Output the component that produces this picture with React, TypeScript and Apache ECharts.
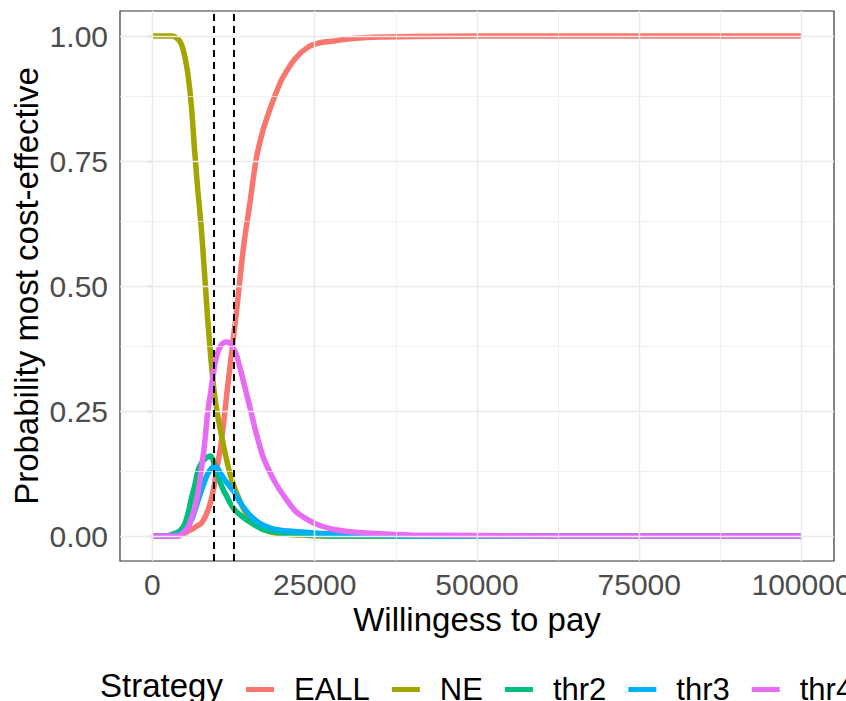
import React, { useEffect, useRef } from "react";
import * as echarts from "echarts";

// Willingness-to-pay grid (x values)
const wtp = [
  0, 2000, 3000, 4000, 4500, 5000, 5500, 6000, 6500, 7000, 7500, 8000, 8500, 9000, 9500, 10000,
  10500, 11000, 11500, 12000, 12500, 13000, 14000, 15000, 16000, 17000, 18000, 19000, 20000,
  22000, 24000, 26000, 28000, 30000, 33000, 36000, 40000, 50000, 60000, 70000, 80000, 90000, 100000,
];

const eall = [
  0, 0, 0, 0, 0.003, 0.006, 0.01, 0.013, 0.017, 0.021, 0.025, 0.035, 0.05, 0.07, 0.1, 0.14,
  0.178, 0.23, 0.29, 0.345, 0.4, 0.455, 0.575, 0.665, 0.755, 0.81, 0.85, 0.885, 0.915,
  0.955, 0.978, 0.987, 0.99, 0.994, 0.997, 0.998, 0.999, 1, 1, 1, 1, 1, 1,
];

const ne = [
  1, 1, 1, 0.993, 0.982, 0.958, 0.92, 0.86, 0.77, 0.69, 0.62, 0.53, 0.435, 0.355, 0.29, 0.245,
  0.21, 0.178, 0.148, 0.122, 0.102, 0.085, 0.055, 0.035, 0.022, 0.014, 0.009, 0.006, 0.004,
  0.002, 0.001, 0, 0, 0, 0, 0, 0, 0, 0, 0, 0, 0, 0,
];

const thr2 = [
  0, 0, 0.003, 0.008, 0.014, 0.025, 0.046, 0.075, 0.1, 0.13, 0.145, 0.153, 0.158, 0.16, 0.145, 0.125,
  0.105, 0.09, 0.078, 0.065, 0.055, 0.048, 0.037, 0.028, 0.02, 0.013, 0.01, 0.008, 0.006,
  0.004, 0.002, 0.001, 0, 0, 0, 0, 0, 0, 0, 0, 0, 0, 0,
];

const thr3 = [
  0, 0, 0, 0.003, 0.006, 0.012, 0.02, 0.032, 0.05, 0.07, 0.09, 0.108, 0.124, 0.134, 0.14, 0.136,
  0.125, 0.115, 0.106, 0.098, 0.09, 0.078, 0.058, 0.042, 0.03, 0.022, 0.017, 0.013, 0.011,
  0.009, 0.007, 0.005, 0.004, 0.003, 0.002, 0.001, 0, 0, 0, 0, 0, 0, 0,
];

const thr4 = [
  0, 0, 0, 0, 0.004, 0.01, 0.018, 0.035, 0.055, 0.085, 0.13, 0.18, 0.246, 0.29, 0.335, 0.365,
  0.38, 0.387, 0.388, 0.385, 0.375, 0.36, 0.31, 0.258, 0.205, 0.16, 0.13, 0.105, 0.085,
  0.05, 0.032, 0.02, 0.013, 0.009, 0.006, 0.004, 0.002, 0.001, 0, 0, 0, 0, 0,
];

const strategies = ["EALL", "NE", "thr2", "thr3", "thr4"];
const colors = ["#F8766D", "#A3A500", "#00BF7D", "#00B0F6", "#E76BF3"];
const seriesValues = [eall, ne, thr2, thr3, thr4];

const xTicks = [0, 25000, 50000, 75000, 100000];
const xMinor = [12500, 37500, 62500, 87500];
const yTicks = [0, 0.25, 0.5, 0.75, 1];
const yMinor = [0.125, 0.375, 0.625, 0.875];
const icerLines = [9400, 12450];

const FONT = "'Liberation Sans', Arial, Helvetica, sans-serif";

export default function App() {
  const ref = useRef<HTMLDivElement>(null);

  useEffect(() => {
    const chart = echarts.init(ref.current!, null, { renderer: "svg" });

    const gridLines = [
      ...xMinor.map((v) => ({ xAxis: v, lineStyle: { color: "#EBEBEB", width: 0.7, type: "solid" } })),
      ...yMinor.map((v) => ({ yAxis: v, lineStyle: { color: "#EBEBEB", width: 0.7, type: "solid" } })),
      ...xTicks.map((v) => ({ xAxis: v, lineStyle: { color: "#EBEBEB", width: 1.4, type: "solid" } })),
      ...yTicks.map((v) => ({ yAxis: v, lineStyle: { color: "#EBEBEB", width: 1.4, type: "solid" } })),
    ];

    const curveSeries = strategies.map((name, k) => ({
      name,
      type: "line",
      data: wtp.map((x, i) => [x, seriesValues[k][i]]),
      symbol: "none",
      showSymbol: false,
      smooth: 0.25,
      lineStyle: { color: colors[k], width: 5.5 },
      itemStyle: { color: colors[k] },
      emphasis: { disabled: true },
      z: 3 + k * 0.01,
    }));

    chart.setOption({
      animation: false,
      textStyle: { fontFamily: FONT },
      grid: {
        left: 120,
        right: 12,
        top: 11,
        bottom: 140,
        show: true,
        borderColor: "#333333",
        borderWidth: 1.2,
        backgroundColor: "#FFFFFF",
        containLabel: false,
        outerBoundsMode: "none",
      },
      xAxis: {
        type: "value",
        min: -5000,
        max: 105000,
        splitLine: { show: false },
        axisLine: { show: false },
        axisTick: { show: true, customValues: xTicks, length: 5, lineStyle: { color: "#333333", width: 1.2 } },
        axisLabel: {
          customValues: xTicks,
          margin: 8,
          fontSize: 30,
          color: "#4D4D4D",
          fontFamily: FONT,
          formatter: (v: number) => String(v),
        },
        name: "Willingess to pay",
        nameLocation: "middle",
        nameGap: 42,
        nameMoveOverlap: false,
        nameTextStyle: { fontSize: 33, color: "#000000", fontFamily: FONT },
      },
      yAxis: {
        type: "value",
        min: -0.05,
        max: 1.05,
        splitLine: { show: false },
        axisLine: { show: false },
        axisTick: { show: true, customValues: yTicks, length: 5, lineStyle: { color: "#333333", width: 1.2 } },
        axisLabel: {
          customValues: yTicks,
          margin: 12,
          fontSize: 30,
          color: "#4D4D4D",
          fontFamily: FONT,
          formatter: (v: number) => v.toFixed(2),
        },
        name: "Probability most cost-effective",
        nameLocation: "middle",
        nameGap: 77,
        nameMoveOverlap: false,
        nameTextStyle: { fontSize: 33, color: "#000000", fontFamily: FONT },
      },
      legend: {
        show: true,
        data: strategies,
        orient: "horizontal",
        left: 241,
        top: 669,
        width: 1200,
        itemWidth: 28,
        itemHeight: 5,
        itemGap: 22,
        icon: "rect",
        selectedMode: false,
        textStyle: { fontSize: 31, color: "#000000", fontFamily: FONT, padding: [0, 0, 0, 15] },
      },
      graphic: [
        {
          type: "text",
          x: 100,
          y: 685,
          style: {
            text: "Strategy",
            fontSize: 33,
            fontFamily: FONT,
            fill: "#000000",
            verticalAlign: "middle",
            align: "left",
          },
        },
      ],
      series: [
        {
          name: "_grid",
          type: "line",
          data: [],
          z: 1,
          silent: true,
          markLine: {
            silent: true,
            symbol: ["none", "none"],
            label: { show: false },
            emphasis: { disabled: true },
            data: gridLines,
          },
        },
        ...curveSeries,
        {
          name: "_icer",
          type: "line",
          data: [],
          z: 10,
          silent: true,
          markLine: {
            silent: true,
            symbol: ["none", "none"],
            label: { show: false },
            emphasis: { disabled: true },
            lineStyle: { color: "#000000", width: 2, type: [7, 5] },
            data: icerLines.map((v) => ({ xAxis: v })),
          },
        },
      ],
    });

    return () => chart.dispose();
  }, []);

  return (
    <div
      ref={ref}
      style={{ position: "absolute", left: 0, top: 0, width: 846, height: 701, background: "#FFFFFF" }}
    />
  );
}
